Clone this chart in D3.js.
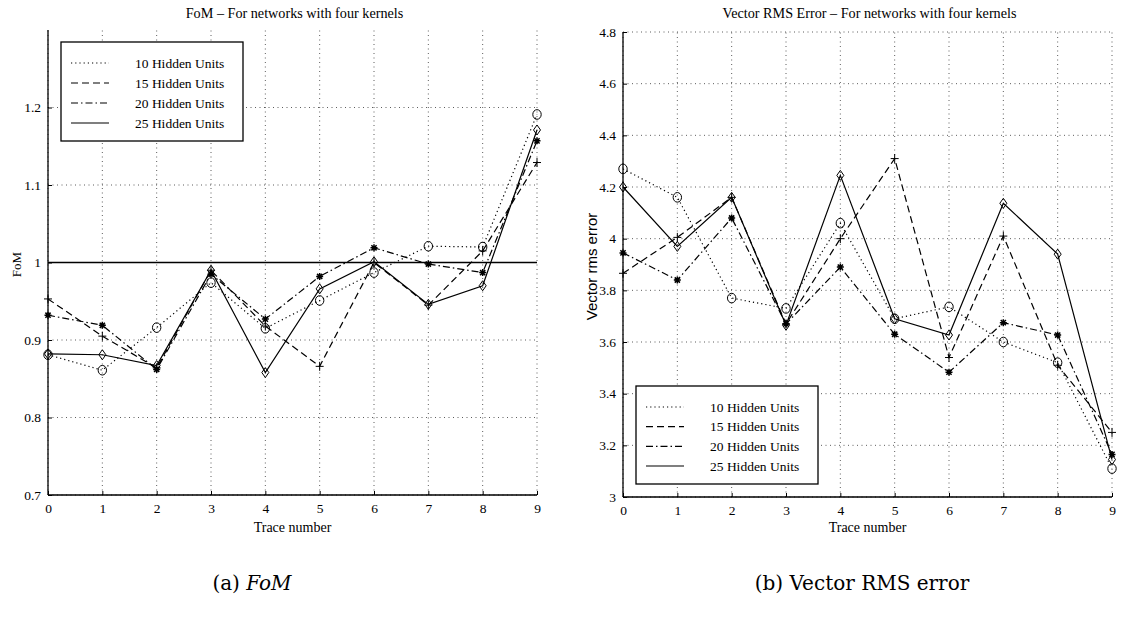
<!DOCTYPE html>
<html>
<head>
<meta charset="utf-8">
<script src="https://cdn.jsdelivr.net/npm/d3@7"></script>
<style>
  body { margin: 0; background: #fff; }
  svg { font-family: "Liberation Serif", serif; }
</style>
</head>
<body>
<svg width="1131" height="620"></svg>
<script>
// trace numbers on the x axis
const traces = [0, 1, 2, 3, 4, 5, 6, 7, 8, 9];
const seriesNames = ["10 Hidden Units", "15 Hidden Units", "20 Hidden Units", "25 Hidden Units"];

// (a) FoM
const fom10 = [0.881, 0.861, 0.916, 0.974, 0.915, 0.951, 0.987, 1.021, 1.020, 1.191];
const fom15 = [0.953, 0.905, 0.864, 0.990, 0.918, 0.866, 1.000, 0.945, 1.015, 1.129];
const fom20 = [0.932, 0.919, 0.862, 0.985, 0.927, 0.982, 1.019, 0.998, 0.987, 1.157];
const fom25 = [0.882, 0.881, 0.867, 0.990, 0.858, 0.966, 1.001, 0.946, 0.970, 1.171];
const fomTicks = [0.7, 0.8, 0.9, 1.0, 1.1, 1.2];
const fomRef = 1.0;

// (b) vector rms error
const rms10 = [4.27, 4.16, 3.77, 3.73, 4.06, 3.69, 3.736, 3.60, 3.52, 3.11];
const rms15 = [3.866, 4.005, 4.16, 3.67, 4.00, 4.31, 3.54, 4.01, 3.51, 3.25];
const rms20 = [3.945, 3.84, 4.08, 3.67, 3.89, 3.63, 3.483, 3.675, 3.627, 3.165];
const rms25 = [4.20, 3.97, 4.16, 3.665, 4.245, 3.69, 3.627, 4.137, 3.94, 3.145];
const rmsTicks = [3.0, 3.2, 3.4, 3.6, 3.8, 4.0, 4.2, 4.4, 4.6, 4.8];

// line style + marker per series
const dashes = ["1.2,3", "7,4", "7,3,1.5,3", null];
const markers = ["circle", "plus", "star", "diamond"];

const svg = d3.select("svg");

drawPanel({
    x0: 48, x1: 537, yTop: 30, yBottom: 495,
    domain: [0.7, 1.3], ticks: fomTicks,
    series: [fom10, fom15, fom20, fom25],
    title: "FoM \u2013 For networks with four kernels",
    ylabel: "FoM", ylabelX: 18, ylabelFont: "Liberation Serif", ylabelSize: 13,
    refLine: fomRef,
    legend: { x: 61, y: 42, w: 182, h: 99 },
    caption: { x: 252, parts: [["(a) ", "normal"], ["FoM", "italic"]] }
});

drawPanel({
    x0: 623, x1: 1112, yTop: 32, yBottom: 497,
    domain: [3.0, 4.8], ticks: rmsTicks,
    series: [rms10, rms15, rms20, rms25],
    title: "Vector RMS Error \u2013  For networks with four kernels",
    ylabel: "Vector rms error", ylabelX: 593, ylabelFont: "Liberation Sans", ylabelSize: 15,
    refLine: null,
    legend: { x: 636, y: 386, w: 182, h: 98 },
    caption: { x: 862, parts: [["(b) Vector RMS error", "normal"]] }
});

function drawPanel(cfg) {
    const x = d3.scaleLinear().domain([0, 9]).range([cfg.x0, cfg.x1]);
    const y = d3.scaleLinear().domain(cfg.domain).range([cfg.yBottom, cfg.yTop]);
    const g = svg.append("g");

    // dotted grid
    g.append("g").selectAll("line").data(traces).join("line")
        .attr("x1", d => x(d)).attr("x2", d => x(d))
        .attr("y1", cfg.yBottom).attr("y2", cfg.yTop)
        .attr("stroke", "#333").attr("stroke-width", 0.8)
        .attr("stroke-dasharray", "1,3.5");
    g.append("g").selectAll("line").data(cfg.ticks).join("line")
        .attr("x1", cfg.x0).attr("x2", cfg.x1)
        .attr("y1", d => y(d)).attr("y2", d => y(d))
        .attr("stroke", "#333").attr("stroke-width", 0.8)
        .attr("stroke-dasharray", "1,3.5");

    // axes, ticks pointing inward
    const xAxis = d3.axisBottom(x).tickValues(traces).tickSize(-4).tickPadding(8)
        .tickFormat(d3.format("d"));
    const yAxis = d3.axisLeft(y).tickValues(cfg.ticks).tickSize(-4).tickPadding(7)
        .tickFormat(d => String(+d.toFixed(1)));
    const ax = g.append("g").attr("transform", `translate(0,${cfg.yBottom})`).call(xAxis);
    const ay = g.append("g").attr("transform", `translate(${cfg.x0},0)`).call(yAxis);
    [ax, ay].forEach(a => {
        a.attr("font-family", null);
        a.select(".domain").attr("stroke", "#000").attr("stroke-width", 1.3);
        a.selectAll(".tick line").attr("stroke", "#000");
        a.selectAll("text").attr("font-family", "Liberation Serif")
            .attr("font-size", 13.5).attr("fill", "#000");
    });
    ax.select(".domain").attr("d", `M${cfg.x0},0H${cfg.x1}`);
    ay.select(".domain").attr("d", `M0,${cfg.yBottom}V${cfg.yTop}`);

    if (cfg.refLine !== null) {
        g.append("line")
            .attr("x1", x(0)).attr("x2", x(9))
            .attr("y1", y(cfg.refLine)).attr("y2", y(cfg.refLine))
            .attr("stroke", "#000").attr("stroke-width", 1.3);
    }

    // series lines
    const line = d3.line().x((d, i) => x(traces[i])).y(d => y(d));
    cfg.series.forEach((vals, s) => {
        g.append("path").datum(vals)
            .attr("d", line)
            .attr("fill", "none").attr("stroke", "#000").attr("stroke-width", 1.2)
            .attr("stroke-dasharray", dashes[s]);
    });
    cfg.series.forEach((vals, s) => {
        g.append("g").selectAll("g").data(vals).join("g")
            .attr("transform", (d, i) => `translate(${x(traces[i])},${y(d)})`)
            .each(function () { drawMarker(d3.select(this), markers[s]); });
    });

    // title + labels
    const mid = (cfg.x0 + cfg.x1) / 2;
    g.append("text").attr("x", mid + 2).attr("y", 18)
        .attr("text-anchor", "middle").attr("font-size", 14.2).text(cfg.title);
    g.append("text").attr("x", mid).attr("y", 532)
        .attr("text-anchor", "middle").attr("font-size", 14).text("Trace number");
    g.append("text")
        .attr("transform", `translate(${cfg.ylabelX},${(cfg.yTop + cfg.yBottom) / 2 + 2}) rotate(-90)`)
        .attr("text-anchor", "middle").attr("dominant-baseline", "middle")
        .attr("font-family", cfg.ylabelFont).attr("font-size", cfg.ylabelSize)
        .text(cfg.ylabel);

    // legend
    const lg = g.append("g").attr("transform", `translate(${cfg.legend.x},${cfg.legend.y})`);
    lg.append("rect").attr("width", cfg.legend.w).attr("height", cfg.legend.h)
        .attr("fill", "#fff").attr("stroke", "#000").attr("stroke-width", 1.3);
    const rowY = d3.scalePoint().domain(seriesNames).range([21, cfg.legend.h - 18]);
    seriesNames.forEach((name, s) => {
        lg.append("line").attr("x1", 10).attr("x2", 48)
            .attr("y1", rowY(name)).attr("y2", rowY(name))
            .attr("stroke", "#000").attr("stroke-width", 1.2)
            .attr("stroke-dasharray", dashes[s]);
        lg.append("text").attr("x", 74).attr("y", rowY(name) + 4.5)
            .attr("font-size", 13.5).text(name);
    });

    // caption under the panel
    const cap = g.append("text").attr("x", cfg.caption.x).attr("y", 590)
        .attr("text-anchor", "middle")
        .attr("font-family", "DejaVu Serif").attr("font-size", 20);
    cfg.caption.parts.forEach(p => cap.append("tspan").attr("font-style", p[1]).text(p[0]));
}

function drawMarker(sel, type) {
    const st = s => s.attr("fill", "none").attr("stroke", "#000").attr("stroke-width", 1);
    if (type === "circle") {
        st(sel.append("ellipse").attr("rx", 4.2).attr("ry", 4.8));
    } else if (type === "diamond") {
        st(sel.append("path").attr("d", "M0,-5L3.5,0L0,5L-3.5,0Z"));
    } else if (type === "plus") {
        st(sel.append("path").attr("d", "M-4,0H4M0,-4.5V4.5"));
    } else {
        st(sel.append("path").attr("d", "M-3.5,0H3.5M0,-3.5V3.5M-2.6,-2.6L2.6,2.6M-2.6,2.6L2.6,-2.6"))
            .attr("stroke-width", 1.5);
    }
}
</script>
</body>
</html>
